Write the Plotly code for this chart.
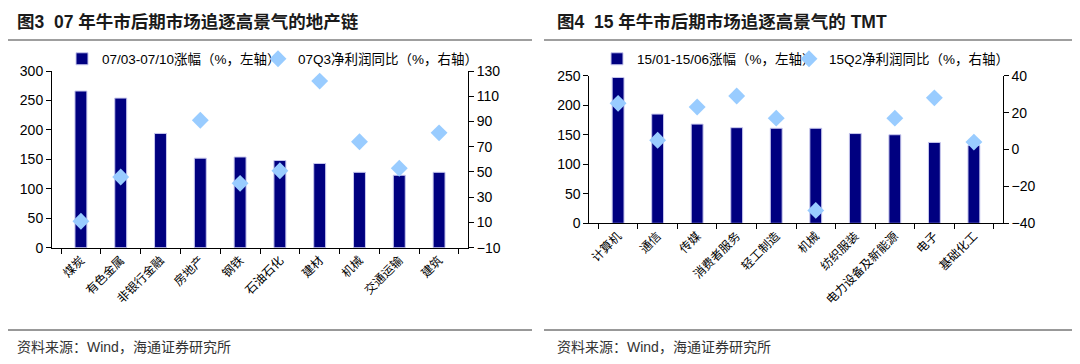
import plotly.graph_objects as go

# ---- data: chart 1 (图3) ----
cats1 = ["煤炭", "有色金属", "非银行金融", "房地产", "钢铁", "石油石化", "建材", "机械", "交通运输", "建筑"]
gain1 = [266, 254, 194, 152, 154, 148, 143, 128, 123, 128]
profit1 = [11, 46, None, 91, 41, 51, 122, 74, 53, 81]
left_ticks1 = [0, 50, 100, 150, 200, 250, 300]
right_ticks1 = [-10, 10, 30, 50, 70, 90, 110, 130]

# ---- data: chart 2 (图4) ----
cats2 = ["计算机", "通信", "传媒", "消费者服务", "轻工制造", "机械", "纺织服装", "电力设备及新能源", "电子", "基础化工"]
gain2 = [247, 185, 168, 162, 161, 161, 152, 150, 137, 132]
profit2 = [25, 5, 23, 29, 17, -33, None, 17, 28, 4]
left_ticks2 = [0, 50, 100, 150, 200, 250]
right_ticks2 = [-40, -20, 0, 20, 40]

title1 = "<b>图3  07 年牛市后期市场追逐高景气的地产链</b>"
title2 = "<b>图4  15 年牛市后期市场追逐高景气的 TMT</b>"
bar_name1 = "07/03-07/10涨幅（%，左轴）"
pt_name1 = "07Q3净利润同比（%，右轴）"
bar_name2 = "15/01-15/06涨幅（%，左轴）"
pt_name2 = "15Q2净利润同比（%，右轴）"
source = "资料来源：Wind，海通证券研究所"

# page body has an 8px default margin: draw a figure that fits the window after it
OFF = 8
W, H = 1080 - OFF, 364 - OFF
FONT = "Liberation Sans, Arial, Noto Sans CJK SC"
NAVY = "#000080"
LIGHT = "#99CCFF"

def px(x):
    return (x - OFF) / W

def py(y):
    return 1 - (y - OFF) / H

fig = go.Figure()
fig.add_trace(go.Bar(x=cats1, y=gain1, name=bar_name1, xaxis="x", yaxis="y",
                     marker=dict(color=NAVY, line=dict(color="#C8C8EE", width=1)),
                     width=0.3, legend="legend"))
fig.add_trace(go.Scatter(x=cats1, y=profit1, name=pt_name1, xaxis="x", yaxis="y2", mode="markers",
                         marker=dict(symbol="diamond", color=LIGHT, size=13), legend="legend2"))
fig.add_trace(go.Bar(x=cats2, y=gain2, name=bar_name2, xaxis="x2", yaxis="y3",
                     marker=dict(color=NAVY, line=dict(color="#C8C8EE", width=1)),
                     width=0.3, legend="legend3"))
fig.add_trace(go.Scatter(x=cats2, y=profit2, name=pt_name2, xaxis="x2", yaxis="y4", mode="markers",
                         marker=dict(symbol="diamond", color=LIGHT, size=13), legend="legend4"))

axis_common = dict(showline=True, linecolor="#000000", linewidth=1, ticks="outside", ticklen=5,
                   tickcolor="#000000", showgrid=False, zeroline=False,
                   tickfont=dict(family=FONT, size=14, color="#000000"))
xaxis_common = dict(type="category", showline=True, linecolor="#000000", linewidth=1, ticks="outside",
                    ticklen=5, tickcolor="#000000", tickson="boundaries", tickangle=-45,
                    showgrid=False, zeroline=False, automargin=False,
                    tickfont=dict(family=FONT, size=12, color="#000000"))

legend_common = dict(yanchor="middle", orientation="h", xanchor="left", y=py(59),
                     font=dict(family=FONT, size=13.5), bgcolor="rgba(0,0,0,0)", itemwidth=30)

fig.update_layout(
    width=W, height=H,
    margin=dict(l=0, r=0, t=0, b=0, autoexpand=False),
    paper_bgcolor="white", plot_bgcolor="white",
    font=dict(family=FONT, color="#000000"),
    bargap=0.7,
    xaxis=dict(domain=[px(52), px(468)], anchor="y", **xaxis_common),
    yaxis=dict(domain=[py(247.7), py(71)], anchor="x", range=[0, 300], tickvals=left_ticks1, **axis_common),
    yaxis2=dict(overlaying="y", anchor="x", side="right", range=[-10, 130], tickvals=right_ticks1, **axis_common),
    xaxis2=dict(domain=[px(589.3), px(1002.7)], anchor="y3", **xaxis_common),
    yaxis3=dict(domain=[py(223.3), py(75.7)], anchor="x2", range=[0, 250], tickvals=left_ticks2, **axis_common),
    yaxis4=dict(overlaying="y3", anchor="x2", side="right", range=[-40, 40], tickvals=right_ticks2, **axis_common),
    legend=dict(x=px(62), **legend_common),
    legend2=dict(x=px(258), **legend_common),
    legend3=dict(x=px(597), **legend_common),
    legend4=dict(x=px(789), **legend_common),
    showlegend=True,
)

shapes = []
for x0, x1 in [(4, 532), (544, 1076)]:
    shapes.append(dict(type="line", xref="paper", yref="paper", x0=px(x0), x1=px(x1), y0=py(5), y1=py(5),
                       line=dict(color="#7F7F7F", width=1.5)))
    shapes.append(dict(type="line", xref="paper", yref="paper", x0=px(x0), x1=px(x1), y0=py(40), y1=py(40),
                       line=dict(color="#7F7F7F", width=1.5)))
    shapes.append(dict(type="line", xref="paper", yref="paper", x0=px(x0), x1=px(x1), y0=py(330), y1=py(330),
                       line=dict(color="#333333", width=1)))
fig.update_layout(shapes=shapes)

annotations = []
for x0, t in [(15, title1), (555, title2)]:
    annotations.append(dict(text=t, xref="paper", yref="paper", x=px(x0), y=py(22), xanchor="left",
                            yanchor="middle", showarrow=False,
                            font=dict(family=FONT, size=17.5, color="#1a1a1a")))
for x0 in [15, 555]:
    annotations.append(dict(text=source, xref="paper", yref="paper", x=px(x0), y=py(347), xanchor="left",
                            yanchor="middle", showarrow=False,
                            font=dict(family=FONT, size=14, color="#333333")))
fig.update_layout(annotations=annotations)

fig.write_html("out.html")
